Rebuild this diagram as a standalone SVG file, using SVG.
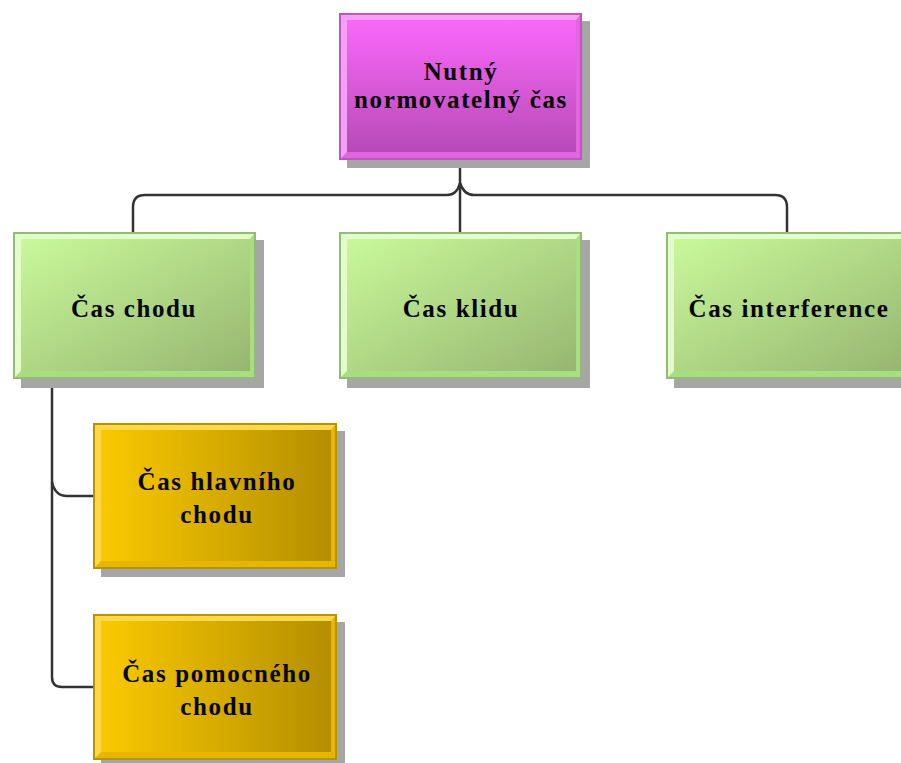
<svg xmlns="http://www.w3.org/2000/svg" width="901" height="763" viewBox="0 0 901 763">
  <defs>
    <linearGradient id="gMag" x1="0" y1="0" x2="0" y2="1">
      <stop offset="0" stop-color="#fa68fa"/>
      <stop offset="1" stop-color="#b84ab8"/>
    </linearGradient>
    <linearGradient id="gGreen" x1="0" y1="0" x2="1" y2="1">
      <stop offset="0" stop-color="#c9f89a"/>
      <stop offset="1" stop-color="#96b670"/>
    </linearGradient>
    <linearGradient id="gGold" x1="0" y1="0" x2="1" y2="0">
      <stop offset="0" stop-color="#fac900"/>
      <stop offset="1" stop-color="#b48e00"/>
    </linearGradient>
  </defs>
  <style>
    .shadow { fill: #a6a6a6; }
    .lbl { font-family: "Liberation Serif", "Times New Roman", serif; font-weight: bold; font-size: 25px; letter-spacing: 1.6px; text-anchor: middle; fill: #050505; }
    .wire { fill: none; stroke: #333; stroke-width: 2.5; }
    .mag .frame { fill: #e264e2; stroke: #c254c2; stroke-width: 2; }
    .mag .hi { fill: #f4a0f4; }
    .mag .body { fill: url(#gMag); }
    .grn .frame { fill: #a9de80; stroke: #92bc72; stroke-width: 2; }
    .grn .hi { fill: #e2fccc; }
    .grn .body { fill: url(#gGreen); }
    .gld .frame { fill: #e6b600; stroke: #b89200; stroke-width: 2; }
    .gld .hi { fill: #fdd84a; }
    .gld .body { fill: url(#gGold); }
  </style>

  <!-- connectors -->
  <g id="connectors">
    <path class="wire" d="M460,160 V233"/>
    <path class="wire" d="M133,233 V207 Q133,195 145,195 H447 Q457,195 460,183"/>
    <path class="wire" d="M787,233 V207 Q787,195 775,195 H474 Q464,195 460,183"/>
    <path class="wire" d="M52,379 V677 Q52,687 62,687 H93"/>
    <path class="wire" d="M52,482 Q55,496 67,496 H93"/>
  </g>

  <!-- root -->
  <g id="node-root" class="mag">
    <rect class="shadow" x="347" y="21" width="243" height="147"/>
    <rect class="frame" x="340" y="14" width="241" height="145"/>
    <path class="hi" d="M341,15 H580 L576,20 H347 V152 L341,158 Z"/>
    <rect class="body" x="347" y="20" width="229" height="132"/>
    <text class="lbl" x="461" y="80">Nutný</text>
    <text class="lbl" x="461" y="108">normovatelný čas</text>
  </g>

  <g id="node-chod" class="grn">
    <rect class="shadow" x="21" y="240" width="243" height="148"/>
    <rect class="frame" x="14" y="233" width="241" height="145"/>
    <path class="hi" d="M15,234 H254 L250,239 H21 V371 L15,377 Z"/>
    <rect class="body" x="21" y="239" width="229" height="132"/>
    <text class="lbl" x="134" y="317">Čas chodu</text>
  </g>

  <g id="node-klid" class="grn">
    <rect class="shadow" x="347" y="240" width="243" height="148"/>
    <rect class="frame" x="340" y="233" width="241" height="145"/>
    <path class="hi" d="M341,234 H580 L576,239 H347 V371 L341,377 Z"/>
    <rect class="body" x="347" y="239" width="229" height="132"/>
    <text class="lbl" x="461" y="317">Čas klidu</text>
  </g>

  <g id="node-interference" class="grn">
    <rect class="shadow" x="674" y="240" width="243" height="148"/>
    <rect class="frame" x="667" y="233" width="241" height="145"/>
    <path class="hi" d="M668,234 H907 L903,239 H674 V371 L668,377 Z"/>
    <rect class="body" x="674" y="239" width="229" height="132"/>
    <text class="lbl" x="789" y="317">Čas interference</text>
  </g>

  <g id="node-hlavni" class="gld">
    <rect class="shadow" x="101" y="431" width="244" height="146"/>
    <rect class="frame" x="94" y="424" width="242" height="144"/>
    <path class="hi" d="M95,425 H335 L331,430 H101 V561 L95,567 Z"/>
    <rect class="body" x="101" y="430" width="230" height="131"/>
    <text class="lbl" x="217" y="490">Čas hlavního</text>
    <text class="lbl" x="217" y="523">chodu</text>
  </g>

  <g id="node-pomocny" class="gld">
    <rect class="shadow" x="101" y="622" width="244" height="146"/>
    <rect class="frame" x="94" y="615" width="242" height="144"/>
    <path class="hi" d="M95,616 H335 L331,621 H101 V752 L95,758 Z"/>
    <rect class="body" x="101" y="621" width="230" height="131"/>
    <text class="lbl" x="217" y="682">Čas pomocného</text>
    <text class="lbl" x="217" y="715">chodu</text>
  </g>
</svg>
